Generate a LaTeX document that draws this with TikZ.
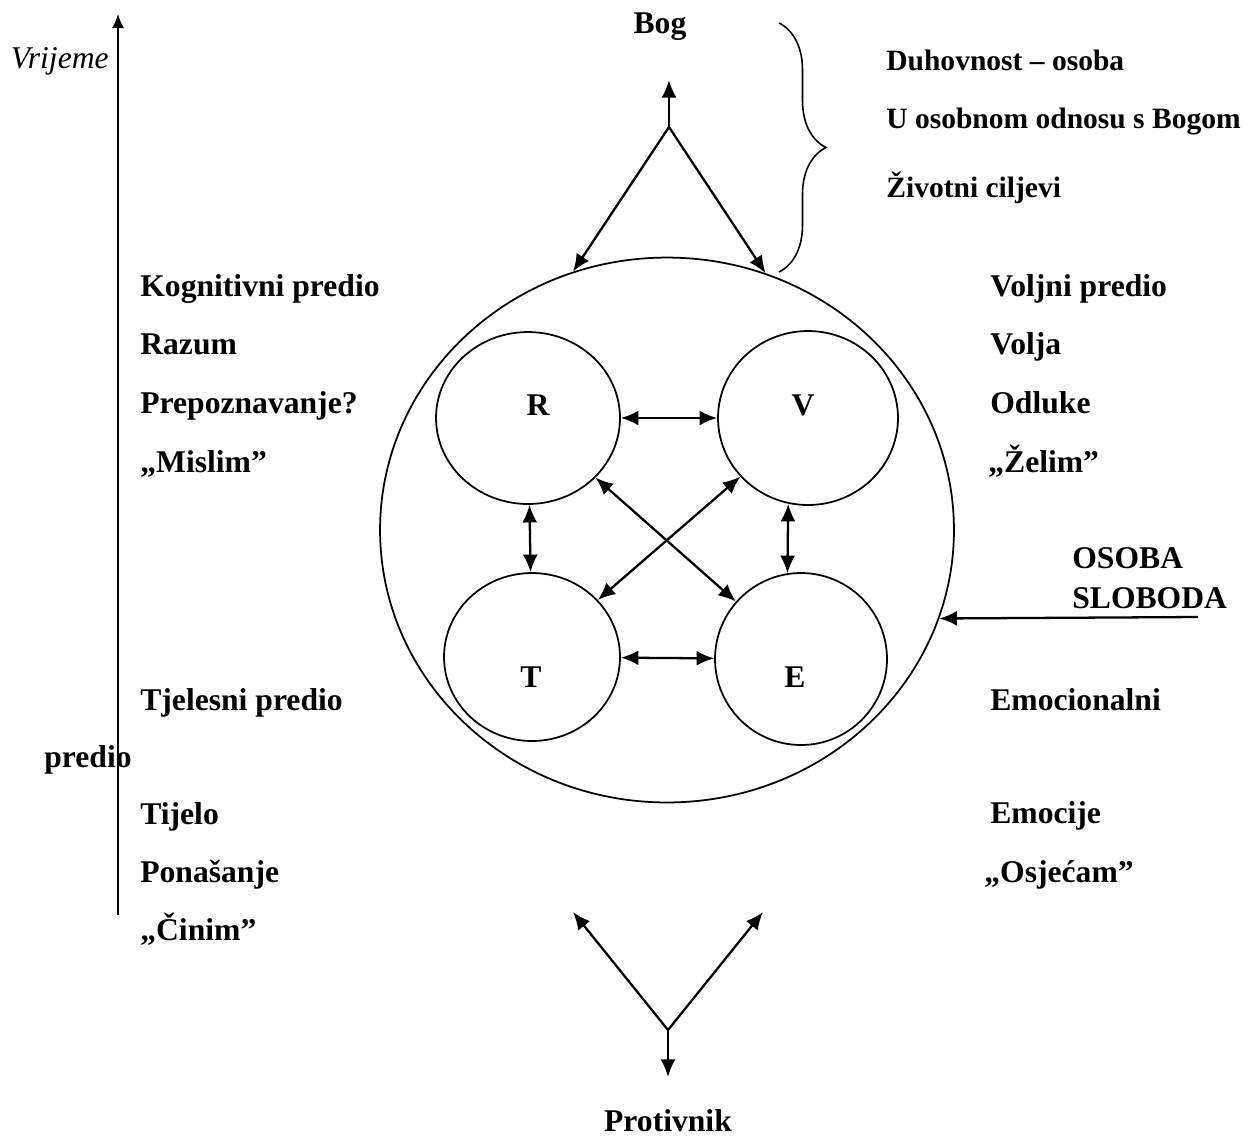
\documentclass[tikz,border=0pt]{standalone}
\usepackage{fontspec}
\setmainfont{Liberation Serif}
\usetikzlibrary{shapes.geometric, arrows.meta, decorations.pathreplacing}

\begin{document}
\begin{tikzpicture}[x=0.02cm, y=-0.02cm,
  txt/.style={font=\fontsize{18}{22}\selectfont\bfseries, anchor=base west, inner sep=0pt},
  duh/.style={font=\fontsize{16.8}{20}\selectfont\bfseries, anchor=base west, inner sep=0pt},
  slovo/.style={font=\fontsize{18}{22}\selectfont\bfseries, anchor=base, inner sep=0pt},
  krug/.style={draw, ellipse, line width=1pt, inner sep=0pt},
  arr/.style={-{Latex[length=10pt, width=8.5pt]}, line width=1.3pt},
  dvo/.style={{Latex[length=10pt, width=8.5pt]}-{Latex[length=10pt, width=8.5pt]}, line width=1.3pt}]
\useasboundingbox (0,0) rectangle (1247,1137);

% vremenska os
\coordinate (tdno) at (118,915);
\coordinate (tvrh) at (118,14);
\draw[-{Latex[length=8pt, width=7pt]}, line width=1.2pt] (tdno) -- (tvrh);
\node[font=\fontsize{18}{22}\selectfont\itshape, anchor=base east, inner sep=0pt] (vrijeme) at (109,68) {Vrijeme};

% osoba i cetiri predjela
\node[krug, minimum width=11.48cm, minimum height=10.9cm] (osoba) at (667,530) {};
\node[krug, minimum width=3.68cm, minimum height=3.44cm] (R) at (528,418) {};
\node[krug, minimum width=3.6cm, minimum height=3.48cm] (V) at (808,418) {};
\node[krug, minimum width=3.52cm, minimum height=3.36cm] (T) at (532,657) {};
\node[krug, minimum width=3.44cm, minimum height=3.44cm] (E) at (801,659) {};
\node[slovo] (rl) at (538,415) {R};
\node[slovo] (vl) at (803,415) {V};
\node[slovo] (tl) at (531,687) {T};
\node[slovo] (el) at (795,687) {E};

\draw[dvo] (R) -- (V);
\draw[dvo] (T) -- (E);
\draw[dvo] (R) -- (T);
\draw[dvo] (V.-103) -- (E.99);
\draw[dvo] (R) -- (E);
\draw[dvo] (V) -- (T);

% Bog
\node[slovo] (bog) at (660,33) {Bog};
\coordinate (gvrh) at (669,127);
\coordinate (gtip) at (669,80);
\draw[arr] (gvrh) -- (gtip);
\draw[arr] (gvrh) -- (osoba.110);
\draw[arr] (gvrh) -- (osoba.69);
\draw[line width=0.9pt, decorate, decoration={brace, amplitude=0.94cm, aspect=0.5}] (779,23) -- (779,272);
\node[duh] (duhovnost) at (886,70) {Duhovnost – osoba};
\node[duh] (odnos) at (886,128) {U osobnom odnosu s Bogom};
\node[duh] (cilj) at (886,197) {Životni ciljevi};

% Protivnik
\coordinate (pvrh) at (668,1030);
\coordinate (plijevo) at (573,912);
\coordinate (pdesno) at (763,912);
\coordinate (pdno) at (668,1077);
\draw[arr] (pvrh) -- (plijevo);
\draw[arr] (pvrh) -- (pdesno);
\draw[arr] (pvrh) -- (pdno);
\node[slovo] (prot) at (668,1131) {Protivnik};

% OSOBA SLOBODA
\node[txt] (os1) at (1072,568) {OSOBA};
\node[txt] (os2) at (1072,608) {SLOBODA};
\coordinate (sloboda) at (1198,617);
\draw[arr] (sloboda) -- (osoba.-18.8);

% lijevi stupac
\node[txt] (kog) at (140,296) {Kognitivni predio};
\node[txt] (raz) at (140,354) {Razum};
\node[txt] (prep) at (140,413) {Prepoznavanje?};
\node[txt] (misl) at (140,472) {„Mislim”};
\node[txt] (tjel) at (140,710) {Tjelesni predio};
\node[txt] (pred) at (44,767) {predio};
\node[txt] (tij) at (140,824) {Tijelo};
\node[txt] (pon) at (140,882) {Ponašanje};
\node[txt] (cin) at (140,940) {„Činim”};

% desni stupac
\node[txt] (volp) at (990,296) {Voljni predio};
\node[txt] (volja) at (990,354) {Volja};
\node[txt] (odl) at (990,413) {Odluke};
\node[txt] (zel) at (988,472) {„Želim”};
\node[txt] (emp) at (990,710) {Emocionalni};
\node[txt] (emo) at (990,823) {Emocije};
\node[txt] (osj) at (984,882) {„Osjećam”};
\end{tikzpicture}
\end{document}
